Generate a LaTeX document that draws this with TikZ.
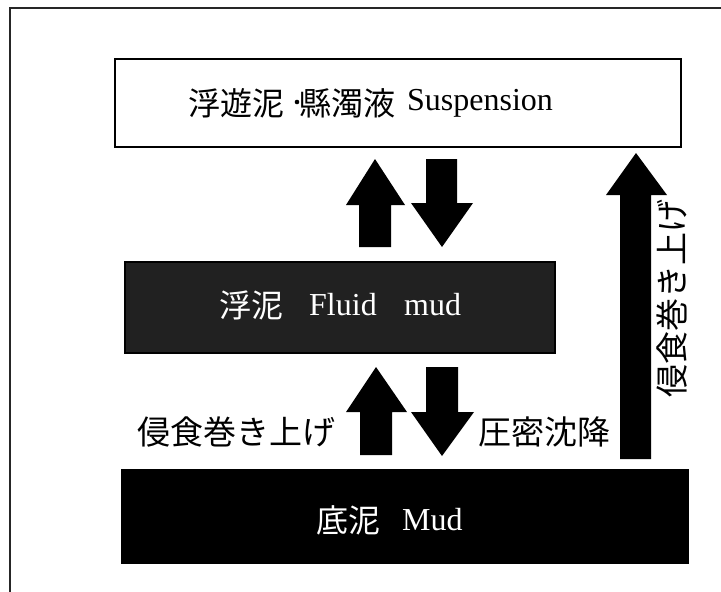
\documentclass[tikz,border=0pt]{standalone}
\usepackage{fontspec}
\setmainfont{Liberation Serif}
\newfontfamily\jp{Noto Sans CJK JP}
\begin{document}
\begin{tikzpicture}[x=1pt,y=-1pt,
  layerbox/.style={draw=black, line width=1.5pt, minimum width=#1, inner sep=0pt, outer sep=0pt},
  boxtext/.style={inner sep=0pt, font=\fontsize{32}{36}\selectfont},
  labeltext/.style={inner sep=0pt, font=\jp\fontsize{33}{38}\selectfont},
  blockarrow/.style={fill=black, draw=none}
]
\useasboundingbox (0,0) rectangle (721,592);
% outer frame (cropped)
\draw[line width=2pt, black!85] (10,592) -- (10,8) -- (721,8);

% layer boxes
\node[layerbox=566pt, minimum height=88pt, fill=white] (susp) at (398,103) {};
\node[layerbox=430pt, minimum height=91pt, fill=black!87] (fluid) at (340,307.5) {};
\node[layerbox=566pt, minimum height=93pt, fill=black] (mud) at (405,516.5) {};

% texts in boxes
\node[boxtext, anchor=west] (s1) at (188,103) {\jp 浮遊泥};
\node[boxtext, anchor=west] (s2) at (299,103) {\jp 縣濁液};
\fill (297,102) circle (2.3pt);
\node[boxtext, anchor=west] (s3) at (407,103) {Suspension};

\node[boxtext, anchor=west, text=white] (f1) at (219,305) {\jp 浮泥};
\node[boxtext, anchor=west, text=white] (f2) at (309,305) {Fluid};
\node[boxtext, anchor=west, text=white] (f3) at (404,305) {mud};

\node[boxtext, anchor=west, text=white] (m1) at (316,520) {\jp 底泥};
\node[boxtext, anchor=west, text=white] (m2) at (402,520) {Mud};

% block arrows between suspension and fluid mud
\fill[blockarrow] (375,159) -- (405,205) -- (391,205) -- (391,247) -- (359,247) -- (359,205) -- (346,205) -- cycle;
\fill[blockarrow] (442,247) -- (473,203) -- (457,203) -- (457,159) -- (426,159) -- (426,203) -- (411,203) -- cycle;

% block arrows between fluid mud and mud
\fill[blockarrow] (376,367) -- (407,412) -- (392,412) -- (392,455) -- (360,455) -- (360,412) -- (346,412) -- cycle;
\fill[blockarrow] (442,456) -- (474,412) -- (458,412) -- (458,367) -- (426,367) -- (426,412) -- (411,412) -- cycle;

% long arrow mud -> suspension
\fill[blockarrow] (636,153) -- (667,195) -- (651,195) -- (651,459) -- (620,459) -- (620,195) -- (606,195) -- cycle;

% labels
\node[labeltext, anchor=west] (l1) at (137,432) {侵食巻き上げ};
\node[labeltext, anchor=west] (l2) at (478,432) {圧密沈降};
\node[labeltext, rotate=90] (l3) at (672,298) {侵食巻き上げ};
\end{tikzpicture}
\end{document}
